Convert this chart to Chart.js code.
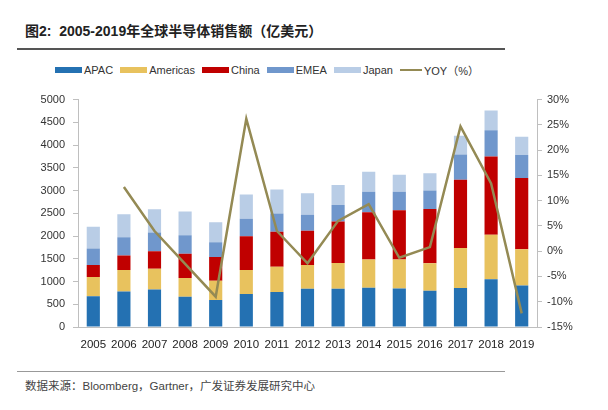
<!DOCTYPE html>
<html>
<head>
<meta charset="utf-8">
<script src="https://cdn.jsdelivr.net/npm/chart.js@4/dist/chart.umd.min.js"></script>
<style>
    body { margin: 0; width: 608px; height: 410px; background: #fff; position: relative; overflow: hidden;
           font-family: "Liberation Sans", Arial, "Noto Sans CJK SC", sans-serif; color: #333; }
    #title { position: absolute; left: 25px; top: 20px; font-size: 14px; font-weight: bold; color: #222; white-space: nowrap; }
    .rule { position: absolute; left: 17px; width: 488px; }
    #rule1 { top: 48px; height: 1.5px; background: #555; }
    #rule2 { top: 371px; height: 1px; background: #999; }
    #legend { position: absolute; left: 55px; top: 62px; display: flex; align-items: center; font-size: 11px; color: #333; white-space: nowrap; }
    .item { display: flex; align-items: center; margin-right: 7px; }
    .swatch { width: 27px; height: 6px; margin-right: 2px; }
    .swatch.line { height: 2.5px; width: 22px; }
    #wrap { position: absolute; left: 0; top: 85px; width: 608px; height: 265px; }
    #source { position: absolute; left: 25px; top: 377px; font-size: 11.5px; color: #444; white-space: nowrap; }
</style>
</head>
<body>
<div id="title">图2:&nbsp; 2005-2019年全球半导体销售额（亿美元）</div>
<div class="rule" id="rule1"></div>
<div id="legend"></div>
<div id="wrap"><canvas id="salesChart"></canvas></div>
<div class="rule" id="rule2"></div>
<div id="source">数据来源：Bloomberg，Gartner，广发证券发展研究中心</div>

<script>
// Years on the x axis
const years = ['2005', '2006', '2007', '2008', '2009', '2010', '2011', '2012',
               '2013', '2014', '2015', '2016', '2017', '2018', '2019'];

// Regional sales, 亿美元
const apac     = [674, 783, 826, 667, 596, 726, 770, 840, 841, 863, 848, 798, 856, 1052, 913];
const americas = [428, 471, 457, 413, 419, 528, 556, 523, 565, 623, 638, 602, 883, 978, 798];
const china    = [261, 319, 384, 529, 522, 739, 770, 754, 914, 1036, 1079, 1196, 1500, 1718, 1565];
const emea     = [363, 398, 413, 406, 326, 385, 397, 352, 362, 450, 407, 404, 552, 578, 507];
const japan    = [478, 507, 507, 522, 441, 535, 529, 473, 442, 441, 376, 378, 413, 435, 400];

// Year-on-year growth, %
const yoy = [null, 12.7, 4.0, -2.5, -9.0, 26.2, 4.0, -2.4, 6.0, 9.3, -1.3, 0.8, 24.7, 13.4, -12.3];

const series = [
    { label: 'APAC',     data: apac,     color: '#2471B2' },
    { label: 'Americas', data: americas, color: '#E8C25E' },
    { label: 'China',    data: china,    color: '#C00000' },
    { label: 'EMEA',     data: emea,     color: '#7097CC' },
    { label: 'Japan',    data: japan,    color: '#B9CDE6' }
];
const lineColor = '#948A54';

// HTML legend, laid out like the source report
const legend = document.getElementById('legend');
series.forEach(s => {
    legend.innerHTML += `<div class="item"><div class="swatch" style="background:${s.color}"></div>${s.label}</div>`;
});
legend.innerHTML += `<div class="item"><div class="swatch line" style="background:${lineColor}"></div>YOY（%）</div>`;

const axisColor = '#BFBFBF';
const tickFont = { family: '"Liberation Sans", Arial', size: 11 };

const datasets = series.map(s => ({
    type: 'bar',
    label: s.label,
    data: s.data,
    backgroundColor: s.color,
    borderWidth: 0,
    barPercentage: 0.43,
    categoryPercentage: 1,
    yAxisID: 'y',
    order: 1
}));
datasets.push({
    type: 'line',
    label: 'YOY（%）',
    data: yoy,
    borderColor: lineColor,
    borderWidth: 2.5,
    pointRadius: 0,
    tension: 0,
    fill: false,
    spanGaps: true,
    yAxisID: 'y1',
    order: 0
});

new Chart(document.getElementById('salesChart'), {
    type: 'bar',
    data: { labels: years, datasets: datasets },
    options: {
        responsive: true,
        maintainAspectRatio: false,
        animation: false,
        layout: { padding: { top: 12, left: 0, right: 0, bottom: 0 } },
        plugins: { legend: { display: false }, tooltip: { enabled: false } },
        scales: {
            x: {
                stacked: true,
                grid: { display: false },
                border: { color: axisColor, width: 1 },
                ticks: { color: '#222', font: { family: '"Liberation Sans", Arial', size: 11.5 }, padding: 3, maxRotation: 0, autoSkip: false },
                afterFit: s => { s.height = 23; }
            },
            y: {
                stacked: true,
                position: 'left',
                min: 0, max: 5000,
                ticks: { stepSize: 500, color: '#333', font: tickFont, padding: 8, callback: v => String(v) },
                grid: { drawOnChartArea: false, tickLength: 5, color: axisColor },
                border: { color: axisColor, width: 1 },
                afterFit: s => { s.width = 78; }
            },
            y1: {
                position: 'right',
                min: -15, max: 30,
                ticks: { stepSize: 5, color: '#333', font: tickFont, padding: 5, callback: v => v + '%' },
                grid: { drawOnChartArea: false, tickLength: 5, color: axisColor },
                border: { color: axisColor, width: 1 },
                afterFit: s => { s.width = 71; }
            }
        }
    }
});
</script>
</body>
</html>
